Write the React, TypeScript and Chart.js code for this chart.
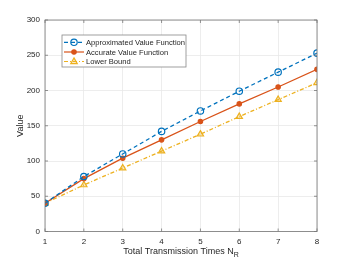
import React, { useEffect, useRef } from "react";
import { Chart, registerables } from "chart.js";

Chart.register(...registerables);

const xValues = [1, 2, 3, 4, 5, 6, 7, 8];
const approxValues = [40, 78, 110, 142, 171, 199, 226, 253];
const accurateValues = [40, 75, 104, 130, 156, 181, 205, 230];
const lowerValues = [40, 66, 90, 114, 138, 163, 187, 211];
const seriesLabels = ["Approximated Value Function", "Accurate Value Function", "Lower Bound"];
const xTitle = "Total Transmission Times N";
const xTitleSub = "R";
const yTitle = "Value";

const FONT = "'Liberation Sans', Arial, Helvetica, sans-serif";
const BLUE = "#0072BD";
const ORANGE = "#D95319";
const YELLOW = "#EDB120";
const TEXT = "#262626";

const styles = [
  { color: BLUE, dash: [4, 3], point: "circle", radius: 3.2, fill: "rgba(0,0,0,0)" },
  { color: ORANGE, dash: [], point: "circle", radius: 2.2, fill: ORANGE },
  { color: YELLOW, dash: [4, 2, 1, 2], point: "triangle", radius: 3.6, fill: "rgba(237,177,32,0.25)" },
];

const decorPlugin = {
  id: "decor",
  afterDraw(chart: any) {
    const { ctx, chartArea: a } = chart;
    ctx.save();
    ctx.strokeStyle = "#777";
    ctx.lineWidth = 0.8;
    ctx.strokeRect(a.left, a.top, a.right - a.left, a.bottom - a.top);
    const xs = chart.scales.x;
    const ys = chart.scales.y;
    ctx.beginPath();
    xValues.forEach((v) => {
      const px = xs.getPixelForValue(v);
      ctx.moveTo(px, a.bottom);
      ctx.lineTo(px, a.bottom - 3);
      ctx.moveTo(px, a.top);
      ctx.lineTo(px, a.top + 3);
    });
    for (let v = 0; v <= 300; v += 50) {
      const py = ys.getPixelForValue(v);
      ctx.moveTo(a.left, py);
      ctx.lineTo(a.left + 3, py);
      ctx.moveTo(a.right, py);
      ctx.lineTo(a.right - 3, py);
    }
    ctx.stroke();

    ctx.fillStyle = TEXT;
    ctx.font = `9px ${FONT}`;
    ctx.textBaseline = "alphabetic";
    const mainW = ctx.measureText(xTitle).width;
    ctx.font = `7px ${FONT}`;
    const subW = ctx.measureText(xTitleSub).width;
    const cx = (a.left + a.right) / 2;
    const startX = cx - (mainW + subW) / 2;
    ctx.font = `9px ${FONT}`;
    ctx.textAlign = "left";
    ctx.fillText(xTitle, startX, 254);
    ctx.font = `7px ${FONT}`;
    ctx.fillText(xTitleSub, startX + mainW, 257);

    ctx.save();
    ctx.translate(23, (a.top + a.bottom) / 2);
    ctx.rotate(-Math.PI / 2);
    ctx.font = `9px ${FONT}`;
    ctx.textAlign = "center";
    ctx.fillText(yTitle, 0, 0);
    ctx.restore();

    const lx = 62, ly = 35, lw = 124, lh = 32;
    ctx.fillStyle = "#fff";
    ctx.fillRect(lx, ly, lw, lh);
    ctx.strokeStyle = "#888";
    ctx.lineWidth = 0.8;
    ctx.strokeRect(lx, ly, lw, lh);
    const rows = [42.3, 52, 61.5];
    seriesLabels.forEach((label, i) => {
      const s = styles[i];
      const y = rows[i];
      ctx.strokeStyle = s.color;
      ctx.lineWidth = 1.2;
      ctx.setLineDash(s.dash);
      ctx.beginPath();
      ctx.moveTo(64, y);
      ctx.lineTo(84, y);
      ctx.stroke();
      ctx.setLineDash([]);
      ctx.fillStyle = s.fill;
      ctx.strokeStyle = s.color;
      ctx.lineWidth = 1.2;
      ctx.beginPath();
      if (s.point === "circle") {
        ctx.arc(74, y, s.radius, 0, Math.PI * 2);
      } else {
        const r = s.radius;
        ctx.moveTo(74, y - r);
        ctx.lineTo(74 + r * 0.9, y + r * 0.6);
        ctx.lineTo(74 - r * 0.9, y + r * 0.6);
        ctx.closePath();
      }
      ctx.fill();
      ctx.stroke();
      ctx.fillStyle = TEXT;
      ctx.font = `7.6px ${FONT}`;
      ctx.textAlign = "left";
      ctx.textBaseline = "middle";
      ctx.fillText(label, 86, y + 0.5);
    });
    ctx.restore();
  },
};

export default function App() {
  const ref = useRef<HTMLCanvasElement>(null);
  useEffect(() => {
    if (!ref.current) return;
    const seriesData = [approxValues, accurateValues, lowerValues];
    const chart = new Chart(ref.current, {
      type: "line",
      data: {
        datasets: seriesData.map((vals, i) => ({
          label: seriesLabels[i],
          data: vals.map((v, j) => ({ x: xValues[j], y: v })),
          borderColor: styles[i].color,
          borderWidth: 1.3,
          borderDash: styles[i].dash,
          pointStyle: styles[i].point as any,
          pointRadius: styles[i].radius,
          pointBackgroundColor: styles[i].fill,
          pointBorderColor: styles[i].color,
          pointBorderWidth: 1.2,
          fill: false,
          tension: 0,
        })),
      },
      options: {
        animation: false,
        responsive: false,
        devicePixelRatio: 1,
        layout: { padding: { left: 0, right: 33, top: 20, bottom: 0 } },
        plugins: { legend: { display: false }, tooltip: { enabled: false } },
        scales: {
          x: {
            type: "linear",
            min: 1,
            max: 8,
            afterFit: (s: any) => { s.height = 31.5; },
            ticks: { stepSize: 1, color: TEXT, font: { family: FONT, size: 8 }, padding: 5, maxRotation: 0 },
            grid: { color: "#e8e8e8", lineWidth: 0.8, drawTicks: false },
            border: { display: false },
          },
          y: {
            min: 0,
            max: 300,
            afterFit: (s: any) => { s.width = 45; },
            ticks: { stepSize: 50, color: TEXT, font: { family: FONT, size: 8 }, padding: 5 },
            grid: { color: "#e8e8e8", lineWidth: 0.8, drawTicks: false },
            border: { display: false },
          },
        },
      },
      plugins: [decorPlugin],
    });
    return () => chart.destroy();
  }, []);
  return (
    <div style={{ position: "absolute", left: 0, top: 0, width: 350, height: 263, background: "#fff" }}>
      <canvas ref={ref} width={350} height={263} style={{ width: 350, height: 263 }} />
    </div>
  );
}
